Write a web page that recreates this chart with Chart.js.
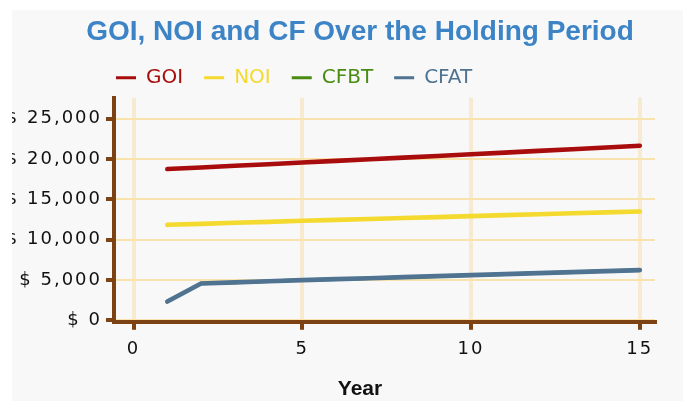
<!DOCTYPE html>
<html>
<head>
<meta charset="utf-8">
<script src="https://cdn.jsdelivr.net/npm/chart.js@4/dist/chart.umd.min.js"></script>
<style>
  html, body { margin: 0; padding: 0; background: #ffffff; overflow: hidden; }
  #panel {
    position: absolute; left: 12px; top: 10px;
    width: 671px; height: 391px;
    background: #f8f8f8; overflow: hidden;
  }
  #chart { display: block; }
</style>
</head>
<body>
<div id="panel">
  <canvas id="chart" width="696" height="391"></canvas>
</div>
<script>
  // values
  const years = [1, 2, 3, 4, 5, 6, 7, 8, 9, 10, 11, 12, 13, 14, 15];
  const goi = [18750, 18950, 19150, 19350, 19560, 19760, 19960, 20170, 20370, 20580, 20790, 21000, 21210, 21420, 21640];
  const noi = [11830, 11950, 12080, 12200, 12330, 12450, 12560, 12680, 12790, 12910, 13030, 13140, 13260, 13370, 13490];
  const cfbt = [2310, 4550, 4690, 4830, 4970, 5090, 5210, 5340, 5460, 5590, 5710, 5840, 5960, 6090, 6210];
  const cfat = [2310, 4550, 4690, 4830, 4970, 5090, 5210, 5340, 5460, 5590, 5710, 5840, 5960, 6090, 6210];

  const xTickValues = [0, 5, 10, 15];
  const yTickValues = [0, 5000, 10000, 15000, 20000, 25000];

  const brown = "#7c4214";

  Chart.defaults.font.family = "DejaVu Sans";

  // legend starts under the plot, not at the canvas edge
  const legendShift = {
    id: "legendShift",
    afterLayout(chart) {
      chart.legend.left = 83;
    },
  };

  // tick labels in the picture are loosely spaced
  const tickSpacing = {
    id: "tickSpacing",
    afterDatasetsDraw(chart) {
      chart.ctx.letterSpacing = "2px";
    },
    afterDraw(chart) {
      chart.ctx.letterSpacing = "0px";
    },
  };

  function makeSet(label, values, color, order, width) {
    return {
      label: label,
      data: values,
      borderColor: color,
      backgroundColor: color,
      borderWidth: width,
      borderCapStyle: "round",
      pointRadius: 0,
      tension: 0,
      order: order,
    };
  }

  new Chart(document.getElementById("chart"), {
    type: "line",
    data: {
      labels: years,
      datasets: [
        makeSet("GOI", goi, "#a80c0c", 1, 4.6),
        makeSet("NOI", noi, "#f4d92e", 1, 4.6),
        makeSet("CFBT", cfbt, "#4a8c13", 1, 3.5),
        makeSet("CFAT", cfat, "#4f7391", 0, 4.6),
      ],
    },
    options: {
      responsive: false,
      animation: false,
      layout: { padding: 0 },
      plugins: {
        title: {
          display: true,
          text: "GOI, NOI and CF Over the Holding Period",
          color: "#3d84c6",
          font: { family: "Liberation Sans", size: 28, weight: "bold", lineHeight: 1 },
          padding: { top: 8.7, bottom: 0 },
        },
        subtitle: {
          display: true,
          position: "bottom",
          text: "Year",
          color: "#111111",
          font: { family: "Liberation Sans", size: 21, weight: "bold", lineHeight: 1 },
          padding: { top: 8.7, bottom: 1.5 },
        },
        legend: {
          position: "top",
          align: "start",
          maxHeight: 52.3,
          labels: {
            usePointStyle: true,
            pointStyleWidth: 20,
            boxHeight: 20,
            padding: 21,
            font: { size: 20 },
            generateLabels: (chart) =>
              chart.data.datasets.map((ds, i) => ({
                text: ds.label,
                fillStyle: ds.borderColor,
                strokeStyle: ds.borderColor,
                fontColor: ds.borderColor,
                lineWidth: 3,
                pointStyle: "line",
                hidden: false,
                datasetIndex: i,
              })),
          },
        },
        tooltip: { enabled: false },
      },
      scales: {
        x: {
          type: "linear",
          min: -0.58,
          max: 15.45,
          afterBuildTicks: (s) => {
            s.ticks = xTickValues.map((v) => ({ value: v }));
          },
          afterFit: (s) => {
            s.paddingRight = 53;
          },
          grid: {
            color: "#f8ead0",
            lineWidth: 4,
            tickColor: brown,
            tickWidth: 4,
            tickLength: 8,
          },
          border: { color: brown, width: 4 },
          ticks: {
            z: 1,
            color: "#111111",
            padding: 9.2,
            maxRotation: 0,
            font: { size: 18, lineHeight: 1.2 },
          },
        },
        y: {
          min: -200,
          max: 27600,
          afterBuildTicks: (s) => {
            s.ticks = yTickValues.map((v) => ({ value: v }));
          },
          afterFit: (s) => {
            s.width = 102;
          },
          grid: {
            color: "#f9e3ad",
            lineWidth: 2,
            tickColor: brown,
            tickWidth: 4,
            tickLength: 8,
          },
          border: { color: brown, width: 4 },
          ticks: {
            z: 1,
            color: "#111111",
            padding: 4,
            font: { size: 18, lineHeight: 1.2 },
            callback: (v) => "$ " + v.toLocaleString("en-US"),
          },
        },
      },
    },
    plugins: [legendShift, tickSpacing],
  });
</script>
</body>
</html>
